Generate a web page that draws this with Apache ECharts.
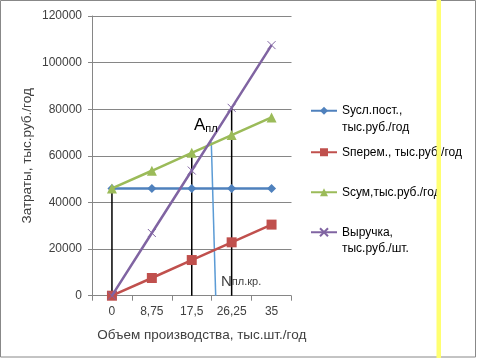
<!DOCTYPE html>
<html><head><meta charset="utf-8">
<script src="https://cdn.jsdelivr.net/npm/echarts@6/dist/echarts.min.js"></script>
<style>html,body{margin:0;padding:0;background:#fff}#c{width:477px;height:358px}</style>
</head><body><div id="c"></div>
<script>
var categories = ['0', '8,75', '17,5', '26,25', '35'];
var sConst = [46000, 46000, 46000, 46000, 46000];
var sVar = [0, 7600, 15300, 22900, 30500];
var sSum = [46000, 53600, 61300, 68900, 76500];
var revenue = [0, 26900, 53700, 80600, 107500];
var seriesNames = ['Sусл.пост., тыс.руб./год', 'Sперем., тыс.руб./год', 'Sсум,тыс.руб./год', 'Выручка, тыс.руб./шт.'];
var yTicks = [0, 20000, 40000, 60000, 80000, 100000, 120000];
// guide lines: category index and top value
var guideIdx = [0, 2, 3];
var guideTop = [46000, 61000, 80600];
// break-even annotation line (category-index units, value)
var beTop = [2.49, 65800];
var beBottom = [2.6, 0];

var FONT = 'Liberation Sans';
var TXT = '#404040';
var colors = ['#4F81BD', '#C0504D', '#9BBB59', '#8064A2'];
var symbols = ['diamond', 'rect', 'triangle', 'path://M0,0L10,10M10,0L0,10'];
var symSizes = [9, 10, 10, 8];
var values = [sConst, sVar, sSum, revenue];

var chart = echarts.init(document.getElementById('c'));
var series = [];
for (var i = 0; i < 4; i++) {
  series.push({
    name: seriesNames[i], type: 'line', data: values[i],
    xAxisIndex: 0, yAxisIndex: 0,
    symbol: symbols[i], symbolSize: symSizes[i], showSymbol: true,
    lineStyle: {color: colors[i], width: 2.5},
    itemStyle: i === 3 ? {color: colors[i], borderColor: colors[i], borderWidth: 1} : {color: colors[i]},
    z: 3 + i
  });
}
for (var g = 0; g < guideIdx.length; g++) {
  series.push({
    type: 'line', xAxisIndex: 1, yAxisIndex: 0, symbol: 'none', silent: true,
    data: [[guideIdx[g], guideTop[g]], [guideIdx[g], 0]],
    lineStyle: {color: '#000', width: 1.5}, z: 2
  });
}
series.push({
  type: 'line', xAxisIndex: 1, yAxisIndex: 0, symbol: 'none', silent: true,
  data: [beTop, beBottom], lineStyle: {color: '#5B9BD5', width: 1.5}, z: 2
});

function mkLegend(idx, top, twoLine) {
  return {
    data: [seriesNames[idx]], orient: 'vertical', left: 310, top: top,
    padding: 0, itemWidth: 26, itemHeight: 10, itemGap: 0,
    formatter: function (n) {
      if (!twoLine) return n;
      var p = n.split(', ');
      return ' \n' + p[0] + ',\n' + p[1];
    },
    textStyle: {fontFamily: FONT, fontSize: 12, color: '#000', lineHeight: 16.5}
  };
}

chart.setOption({
  animation: false,
  textStyle: {fontFamily: FONT},
  grid: {left: 92, top: 16, width: 199.5, height: 279.7, containLabel: false},
  legend: [mkLegend(0, 86, true), mkLegend(1, 144, false), mkLegend(2, 184, false), mkLegend(3, 207.5, true)],
  xAxis: [{
    type: 'category', data: categories, boundaryGap: true,
    axisLine: {show: false},
    axisTick: {show: true, length: 5, lineStyle: {color: '#868686'}},
    axisLabel: {color: TXT, fontSize: 12, margin: 10, fontFamily: FONT},
    splitLine: {show: false},
    name: 'Объем производства, тыс.шт./год', nameLocation: 'middle', nameGap: 33,
    nameTextStyle: {color: TXT, fontSize: 13.5, fontFamily: FONT, padding: [0, 0, 0, 20]}
  }, {
    type: 'value', min: -0.5, max: 4.5, show: false
  }],
  yAxis: {
    type: 'value', min: 0, max: 120000, interval: 20000,
    axisLine: {show: true, onZero: false, lineStyle: {color: '#868686'}},
    axisTick: {show: true, length: 4, lineStyle: {color: '#868686'}},
    axisLabel: {color: TXT, fontSize: 12, margin: 10, fontFamily: FONT,
      formatter: function (v) { return yTicks.indexOf(v) >= 0 ? String(v) : ''; }},
    splitLine: {show: true, lineStyle: {color: '#868686', width: 1}},
    name: 'Затраты, тыс.руб./год', nameLocation: 'middle', nameGap: 58,
    nameTextStyle: {color: TXT, fontSize: 13.5, fontFamily: FONT}
  },
  graphic: [
    {type: 'rect', shape: {x: 0.5, y: 0.5, width: 475, height: 356.5}, style: {fill: 'none', stroke: '#888', lineWidth: 1}, z: -1},
    {type: 'rect', shape: {x: 436.5, y: 0, width: 4.5, height: 358}, style: {fill: '#ffff70'}, z: 10},
    {type: 'text', left: 194, top: 117, style: {rich: {a: {fontSize: 17, fontFamily: FONT, fill: '#000'}, b: {fontSize: 11, fontFamily: FONT, fill: '#000', verticalAlign: 'bottom'}}, text: '{a|А}{b|пл}'}, z: 20},
    {type: 'text', left: 221, top: 274, style: {rich: {a: {fontSize: 15, fontFamily: FONT, fill: '#404040'}, b: {fontSize: 11, fontFamily: FONT, fill: '#404040'}}, text: '{a|N}{b|пл.кр.}'}, z: 20}
  ],
  series: series
});
</script></body></html>
